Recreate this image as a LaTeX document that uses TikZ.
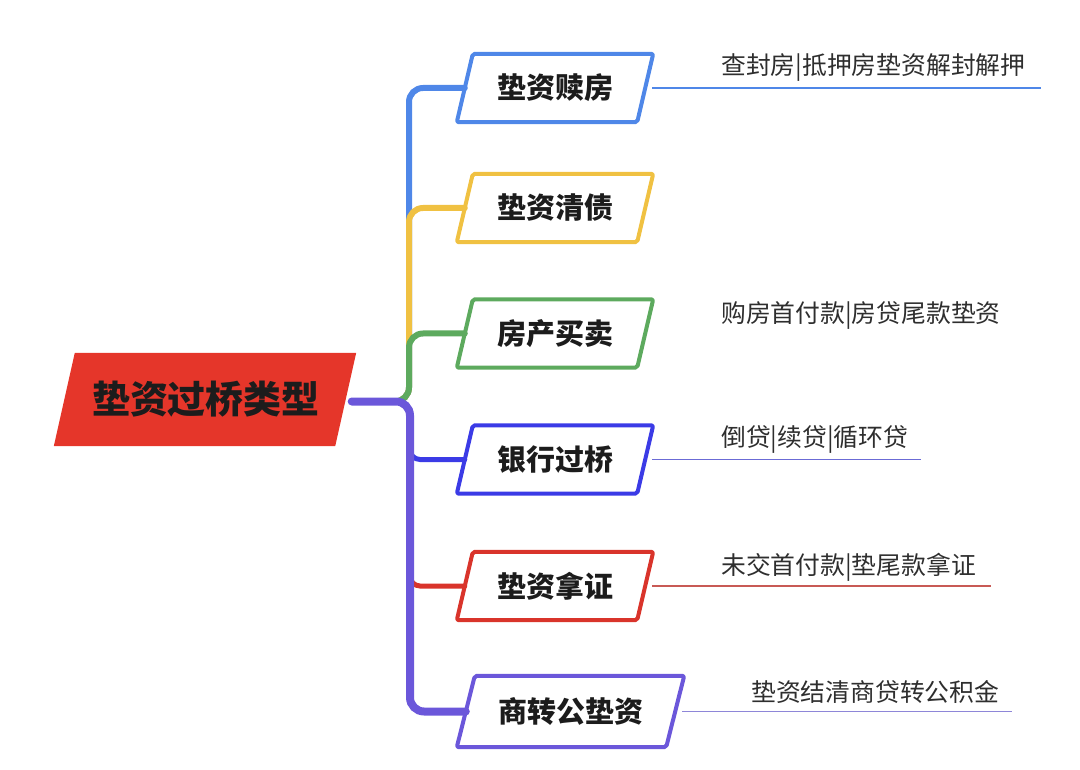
\documentclass[tikz,border=0pt]{standalone}
\usepackage{fontspec}
\setmainfont{Noto Sans CJK SC}
\usetikzlibrary{calc,backgrounds}
\definecolor{cRoot}{HTML}{E5362A}
\definecolor{cBlueA}{HTML}{4F87E8}
\definecolor{cYellow}{HTML}{F0C142}
\definecolor{cGreen}{HTML}{5DAA5E}
\definecolor{cBlueB}{HTML}{3B3BE6}
\definecolor{cRed}{HTML}{D9342B}
\definecolor{cPurple}{HTML}{6B57DA}
\definecolor{cText}{HTML}{1C1C1C}
\definecolor{cLeaf}{HTML}{2E2E2E}
\definecolor{cLineB}{HTML}{6B6BD6}
\definecolor{cLineR}{HTML}{C85A55}
\definecolor{cLineP}{HTML}{8E86D8}
\newcommand\drawpgram[3]{%
  \draw[frame,#2] ($(#1.north west)+(#3,0)$) -- ($(#1.north east)+(#3,0)$) -- ($(#1.south east)+(-#3,0)$) -- ($(#1.south west)+(-#3,0)$) -- cycle;}
\begin{document}
\begin{tikzpicture}[x=1pt,y=-1pt,
  box/.style={minimum width=180pt, minimum height=68pt, inner sep=0pt, text=cText, font=\fontsize{29}{34}\selectfont\bfseries},
  leaf/.style={inner sep=0pt, anchor=west, text=cLeaf, font=\fontsize{24.8}{29}\selectfont},
  frame/.style={line width=4pt, rounded corners=2pt, line join=round},
  branch/.style={line width=6pt, rounded corners=14pt, line cap=round},
  uline/.style={line width=1.4pt}]
\useasboundingbox (0,0) rectangle (1080,770);
\coordinate (tx) at (409,0);
\coordinate (tp) at (410,0);

% root
\node[box, minimum width=281pt, minimum height=93pt, font=\fontsize{38}{44}\selectfont\bfseries] (r) at (206,399.5) {垫资过桥类型};
\begin{scope}[on background layer]
  \fill[cRoot] ($(r.north west)+(9.5,0)$) -- ($(r.north east)+(9.5,0)$) -- ($(r.south east)+(-11.5,0)$) -- ($(r.south west)+(-11.5,0)$) -- cycle;
\end{scope}
\coordinate (s) at ($(r.east)+(5,2)$);

% branch nodes
\node[box] (n1) at (555,88) {垫资赎房};
\node[box] (n2) at (555,208) {垫资清债};
\node[box] (n3) at (555,333.5) {房产买卖};
\node[box] (n4) at (555,459.5) {银行过桥};
\node[box] (n5) at (555,586) {垫资拿证};
\node[box, minimum width=209pt, minimum height=71pt] (n6) at (570.5,711.5) {商转公垫资};

\drawpgram{n1}{cBlueA}{8}
\drawpgram{n2}{cYellow}{8}
\drawpgram{n3}{cGreen}{8}
\drawpgram{n4}{cBlueB}{8}
\drawpgram{n5}{cRed}{8}
\drawpgram{n6}{cPurple}{9}

% connectors
\draw[branch, cBlueA] (s) -- (s -| tx) |- (n1.west);
\draw[branch, cYellow] (s) -- (s -| tx) |- (n2.west);
\draw[branch, cGreen] (s) -- (s -| tx) |- (n3.west);
\draw[branch, cBlueB, line width=5pt, rounded corners=10pt] ($(n4.west -| tp)+(0,-14)$) |- (n4.west);
\draw[branch, cRed, line width=5pt, rounded corners=10pt] ($(n5.west -| tp)+(0,-14)$) |- (n5.west);
\draw[branch, cPurple, line width=8pt] (s) -- (s -| tp) |- (n6.west);

% leaves
\node[leaf] (l1) at (721,68) {查封房|抵押房垫资解封解押};
\node[leaf] (l3) at (721,315) {购房首付款|房贷尾款垫资};
\node[leaf] (l4) at (721,440) {倒贷|续贷|循环贷};
\node[leaf] (l5) at (721,567) {未交首付款|垫尾款拿证};
\node[leaf] (l6) at (751,692) {垫资结清商贷转公积金};

\draw[uline, cBlueA] ($(n1.east)+(7,0)$) -- ($(l1.east |- n1.east)+(15,0)$);
\draw[uline, cLineB] ($(n4.east)+(7,0)$) -- ($(l4.east |- n4.east)+(13,0)$);
\draw[uline, cLineR] ($(n5.east)+(7,0)$) -- ($(l5.east |- n5.east)+(15,0)$);
\draw[uline, cLineP] ($(n6.east)+(7,0)$) -- ($(l6.east |- n6.east)+(13,0)$);
\end{tikzpicture}
\end{document}
